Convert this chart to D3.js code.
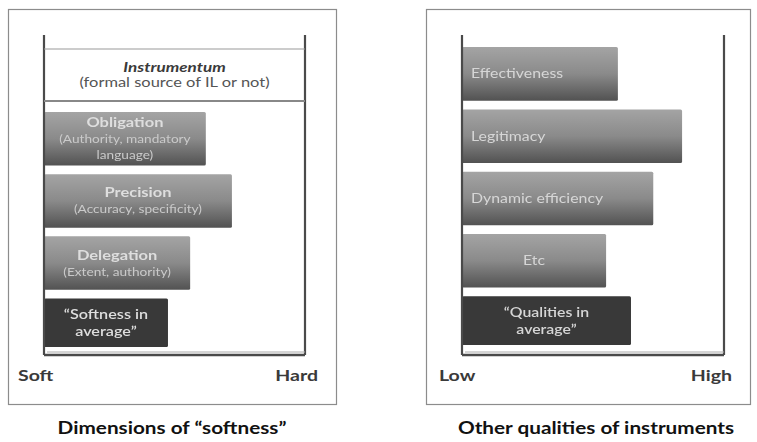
<!DOCTYPE html>
<html><head><meta charset="utf-8">
<script src="https://cdn.jsdelivr.net/npm/d3@7"></script>
<style>body{margin:0;background:#fff}svg{display:block}text{font-family:Lato,"Open Sans",sans-serif}</style>
</head><body><svg id="c" width="757" height="442"></svg>
<script>
// Left panel: dimensions of softness (0 = Soft, 100 = Hard)
const softCategories = ["Obligation", "Precision", "Delegation", "Softness in average"];
const softTitles = ["Obligation", "Precision", "Delegation", "\u201cSoftness in"];
const softSubtitles = [["(Authority, mandatory", "language)"], ["(Accuracy, specificity)"], ["(Extent, authority)"], ["average\u201d"]];
const softValues = [62, 72, 56, 47.5];
const softAxisLabels = ["Soft", "Hard"];
const softHeader = ["Instrumentum", "(formal source of IL or not)"];
const softPanelTitle = "Dimensions of \u201csoftness\u201d";

// Right panel: other qualities (0 = Low, 100 = High)
const qualCategories = ["Effectiveness", "Legitimacy", "Dynamic efficiency", "Etc", "Qualities in average"];
const qualValues = [59.5, 84, 73, 55, 64.5];
const qualAxisLabels = ["Low", "High"];
const qualPanelTitle = "Other qualities of instruments";

const SX = 1.22; // horizontal stretch of the reference typography

const svg = d3.select("#c");
const defs = svg.append("defs");
const grad = defs.append("linearGradient").attr("id","g").attr("x1",0).attr("y1",0).attr("x2",0).attr("y2",1);
grad.append("stop").attr("offset","0%").attr("stop-color","#a4a4a4");
grad.append("stop").attr("offset","50%").attr("stop-color","#8a8a8a");
grad.append("stop").attr("offset","100%").attr("stop-color","#525252");
const f = defs.append("filter").attr("id","blur").attr("x","-5%").attr("y","-20%").attr("width","110%").attr("height","140%");
f.append("feGaussianBlur").attr("stdDeviation",0.55);

function stext(parent, x, y, anchor){
  return parent.append("g").attr("transform",`translate(${x},${y}) scale(${SX},1)`)
    .append("text").attr("text-anchor",anchor);
}

function panel(o){
  const g = svg.append("g");
  g.append("rect").attr("x",o.box[0]+0.5).attr("y",o.box[1]+0.5).attr("width",o.box[2]-o.box[0]).attr("height",o.box[3]-o.box[1])
    .attr("fill","none").attr("stroke","#8c8c8c").attr("stroke-width",1.2);
  const x = d3.scaleLinear().domain([0,100]).range([o.x0,o.x1]);
  const y = d3.scaleBand().domain(o.cats).range(o.yr).paddingInner(0.14).paddingOuter(0.05);
  g.selectAll("rect.bar").data(o.cats).join("rect").attr("class","bar")
    .attr("x",x(0)).attr("y",d=>y(d)).attr("width",(d,i)=>x(o.vals[i])-x(0)).attr("height",(d,i)=> i===o.cats.length-1 ? y.bandwidth()-5 : y.bandwidth())
    .attr("fill",(d,i)=> i===o.cats.length-1 ? "#393939" : "url(#g)")
    .attr("rx",1.5);
  g.append("line").attr("x1",x(0)).attr("x2",x(0)).attr("y1",o.top).attr("y2",o.bottom).attr("stroke","#4a4a4a").attr("stroke-width",2.2);
  g.append("line").attr("x1",x(100)).attr("x2",x(100)).attr("y1",o.top).attr("y2",o.bottom).attr("stroke","#4a4a4a").attr("stroke-width",2.2);
  g.append("line").attr("x1",x(0)).attr("x2",x(100)).attr("y1",o.bottom).attr("y2",o.bottom).attr("stroke","#4a4a4a").attr("stroke-width",2.4);
  g.append("line").attr("x1",x(0)+3).attr("x2",x(100)).attr("y1",o.bottom-3).attr("y2",o.bottom-3).attr("stroke","#aaa").attr("stroke-width",1);
  stext(g, o.box[0]+10+o.lowShift, 381, "start").attr("font-size",16).attr("font-weight",700).attr("fill","#3a3a3a").text(o.axis[0]);
  stext(g, o.box[2]-18, 381, "end").attr("font-size",16).attr("font-weight",700).attr("fill","#3a3a3a").text(o.axis[1]);
  stext(g, (o.box[0]+o.box[2])/2+o.titleShift, 434, "middle").attr("font-size",17).attr("font-weight",700).attr("fill","#111").text(o.title);
  return {g,x,y};
}

// Left
const L = panel({box:[8,9,336,404], x0:44, x1:305, top:35, bottom:355, yr:[109,355], cats:softCategories, vals:softValues, axis:softAxisLabels, title:softPanelTitle, titleShift:0, lowShift:0});
L.g.append("line").attr("x1",L.x(0)).attr("x2",L.x(100)).attr("y1",49).attr("y2",49).attr("stroke","#999").attr("stroke-width",1);
L.g.append("line").attr("x1",L.x(0)).attr("x2",L.x(100)).attr("y1",101).attr("y2",101).attr("stroke","#888").attr("stroke-width",2);
stext(L.g, L.x(50), 72, "middle").attr("font-size",14).attr("font-weight",700).attr("font-style","italic").attr("fill","#3a3a3a").text(softHeader[0]);
stext(L.g, L.x(50), 87, "middle").attr("font-size",13.5).attr("fill","#555").text(softHeader[1]);
softCategories.forEach((c,i)=>{
  const cx = (L.x(0)+L.x(softValues[i]))/2;
  const last = i===softCategories.length-1;
  const lines = [softTitles[i]].concat(softSubtitles[i]);
  const h = last ? L.y.bandwidth()-5 : L.y.bandwidth();
  const lh = last ? 17 : 16;
  const start = L.y(c) + h/2 - (lines.length-1)*lh/2 + 4.5;
  const t = stext(L.g, cx, start, "middle").attr("filter","url(#blur)");
  lines.forEach((s,j)=>{
    t.append("tspan").attr("x",0).attr("y",j*lh)
      .attr("font-size", (j===0 && !last) ? 13.5 : (last ? 13.3 : 11.2))
      .attr("font-weight", (j===0 && !last) ? 700 : (last ? 600 : 400))
      .attr("fill", (j===0 || last) ? "#dedede" : "#cacaca")
      .text(s);
  });
});

// Right
const R = panel({box:[426,9,750,404], x0:462, x1:724, top:35, bottom:355, yr:[44,353], cats:qualCategories, vals:qualValues, axis:qualAxisLabels, title:qualPanelTitle, titleShift:8, lowShift:3});
qualCategories.forEach((c,i)=>{
  const last = i===qualCategories.length-1;
  const centered = last || c==="Etc";
  const cx = centered ? (R.x(0)+R.x(qualValues[i]))/2 : R.x(0)+9;
  const h = last ? R.y.bandwidth()-5 : R.y.bandwidth();
  const t = stext(R.g, cx, R.y(c)+h/2, centered?"middle":"start").attr("fill","#d6d6d6").attr("filter","url(#blur)").attr("font-size",13);
  if(last){
    t.append("tspan").attr("x",0).attr("y",-4).attr("font-weight",600).text("\u201cQualities in");
    t.append("tspan").attr("x",0).attr("y",13).attr("font-weight",600).text("average\u201d");
  } else {
    t.append("tspan").attr("x",0).attr("y",4.5).text(c);
  }
});
</script></body></html>
